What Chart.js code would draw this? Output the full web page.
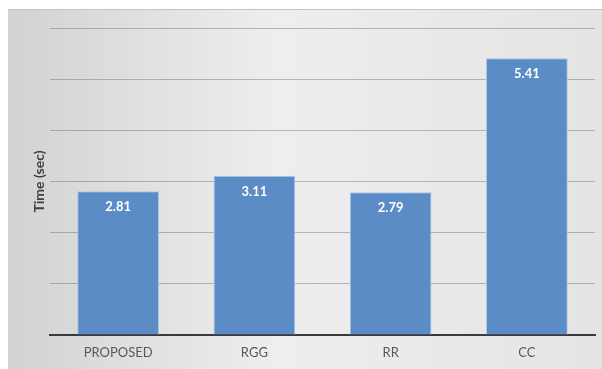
<!DOCTYPE html>
<html>
<head>
<meta charset="utf-8">
<script src="https://cdn.jsdelivr.net/npm/chart.js@4"></script>
<style>
html,body{margin:0;padding:0;background:#fff;}
#wrap{width:602px;height:369px;position:relative;}
</style>
</head>
<body>
<div id="wrap"><canvas id="c" width="602" height="369"></canvas></div>
<script>
const categories = ["PROPOSED", "RGG", "RR", "CC"];
const timeValues = [2.81, 3.11, 2.79, 5.41];
const valueLabels = ["2.81", "3.11", "2.79", "5.41"];

const panelBg = {
  id: 'panelBg',
  beforeDraw(chart) {
    const ctx = chart.ctx;
    ctx.save();
    ctx.fillStyle = '#ffffff';
    ctx.fillRect(0, 0, chart.width, chart.height);
    const g = ctx.createLinearGradient(8, 0, chart.width, 0);
    g.addColorStop(0, '#d2d2d2');
    g.addColorStop(0.45, '#eeeeee');
    g.addColorStop(1, '#e4e4e4');
    ctx.fillStyle = g;
    ctx.fillRect(8, 9, chart.width - 8, chart.height - 9);
    ctx.fillStyle = '#c4c4c4';
    ctx.fillRect(8, 9, chart.width - 8, 1);
    ctx.restore();
  }
};

const barLabels = {
  id: 'barLabels',
  afterDraw(chart) {
    const ctx = chart.ctx;
    const meta = chart.getDatasetMeta(0);
    ctx.save();
    ctx.fillStyle = '#ffffff';
    ctx.font = 'bold 13px Lato';
    ctx.textAlign = 'center';
    ctx.textBaseline = 'middle';
    meta.data.forEach((bar, i) => {
      ctx.fillText(valueLabels[i], bar.x, bar.y + 16);
    });
    ctx.restore();
  }
};

new Chart(document.getElementById('c'), {
  type: 'bar',
  data: {
    labels: categories,
    datasets: [{
      data: timeValues,
      backgroundColor: '#5b8cc6',
      borderColor: '#a9c6e6',
      borderWidth: 1,
      barPercentage: 0.6,
      categoryPercentage: 1
    }]
  },
  options: {
    responsive: false,
    animation: false,
    layout: { padding: { left: 8, right: 7, top: 28, bottom: 0 } },
    plugins: { legend: { display: false }, tooltip: { enabled: false } },
    scales: {
      x: {
        grid: { display: false, drawTicks: false },
        border: { display: true, color: '#3a3a3a', width: 2 },
        ticks: { color: '#595959', font: { family: 'Lato', size: 13 }, padding: 10 },
        afterFit(scale) { scale.width; scale.height = 34; }
      },
      y: {
        min: 0, max: 6,
        z: 1,
        grid: { color: 'rgba(70,70,70,0.33)', lineWidth: 1, drawTicks: false },
        border: { display: false },
        ticks: { display: false, stepSize: 1 },
        title: { display: true, text: 'Time (sec)', color: '#404040', font: { family: 'Lato', size: 14, weight: 'bold' }, padding: { top: 23, bottom: 0 } },
        afterFit(scale) { scale.width = 42; }
      }
    }
  },
  plugins: [panelBg, barLabels]
});
</script>
</body>
</html>
